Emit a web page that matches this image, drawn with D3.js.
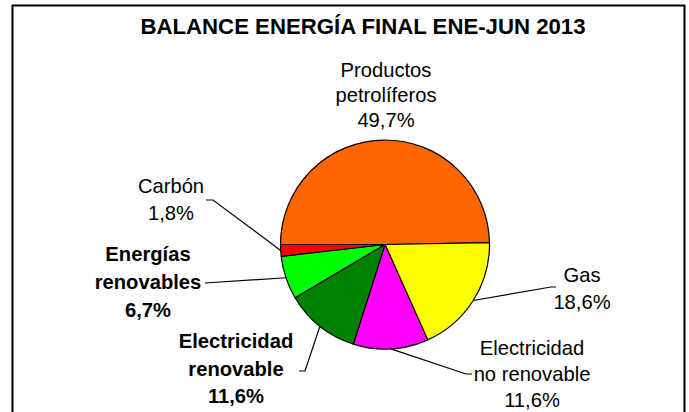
<!DOCTYPE html>
<html>
<head>
<meta charset="utf-8">
<script src="https://cdn.jsdelivr.net/npm/d3@7"></script>
<style>
  html, body { margin: 0; padding: 0; background: #fff; }
  svg { display: block; font-family: "Liberation Sans", Arial, sans-serif; }
</style>
</head>
<body>
<svg id="chart" width="689" height="412"></svg>
<script>
// Final energy balance, January–June 2013 (share of total, %)
const title = "BALANCE ENERGÍA FINAL ENE-JUN 2013";
const categories = [
  "Productos petrolíferos",
  "Gas",
  "Electricidad no renovable",
  "Electricidad renovable",
  "Energías renovables",
  "Carbón"
];
const shares = [49.7, 18.6, 11.6, 11.6, 6.7, 1.8];
const labelLines = [
  ["Productos", "petrolíferos"],
  ["Gas"],
  ["Electricidad", "no renovable"],
  ["Electricidad", "renovable"],
  ["Energías", "renovables"],
  ["Carbón"]
];
const sliceColors = ["#FF6600", "#FFFF00", "#FF00FF", "#008000", "#00FF00", "#FF0000"];
const boldLabels = [false, false, false, true, true, false];

// Label placement: centre x, first baseline y, line spacing, leader-line bend points
const labelLayout = [
  { x: 386, y: 77,  dy: 24.8, leader: [] },
  { x: 582, y: 282, dy: 26.5, leader: [[551, 287], [556, 287]] },
  { x: 532, y: 355, dy: 26.2, leader: [[466, 374], [472, 374]] },
  { x: 236, y: 348, dy: 27.5, leader: [[305, 371], [299, 371]] },
  { x: 148, y: 261, dy: 27.8, leader: [[205, 283]] },
  { x: 171, y: 193, dy: 26.7, leader: [[213, 200], [206, 200]] }
];

const fmt = v => d3.format(".1f")(v).replace(".", ",") + "%";

const svg = d3.select("#chart");
const cx = 385, cy = 244.5, radius = 104.5;

// Outer frame (open at the bottom edge)
svg.append("path")
  .attr("d", "M12.5,420 L12.5,5.5 L684.5,5.5 L684.5,420")
  .attr("fill", "none")
  .attr("stroke", "#000")
  .attr("stroke-width", 2);

svg.append("text")
  .attr("x", 363)
  .attr("y", 34)
  .attr("text-anchor", "middle")
  .attr("font-weight", "bold")
  .attr("font-size", 22.2)
  .attr("fill", "#000")
  .text(title);

const pie = d3.pie()
  .value(d => d)
  .sort(null)
  .startAngle(-Math.PI / 2)
  .endAngle(3 * Math.PI / 2);

const arcs = pie(shares);
const arc = d3.arc().innerRadius(0).outerRadius(radius);

const g = svg.append("g").attr("transform", `translate(${cx},${cy})`);
g.selectAll("path.slice")
  .data(arcs)
  .join("path")
  .attr("class", "slice")
  .attr("d", arc)
  .attr("fill", (d, i) => sliceColors[i])
  .attr("stroke", "#000")
  .attr("stroke-width", 1.2)
  .attr("stroke-linejoin", "round");

// Leader lines from each slice's mid-angle on the rim
arcs.forEach((d, i) => {
  const pts = labelLayout[i].leader;
  if (!pts.length) return;
  const mid = (d.startAngle + d.endAngle) / 2;
  const start = [cx + radius * Math.sin(mid), cy - radius * Math.cos(mid)];
  svg.append("path")
    .attr("d", d3.line()([start, ...pts]))
    .attr("fill", "none")
    .attr("stroke", "#000")
    .attr("stroke-width", 1.2);
});

// Category labels with percentage
arcs.forEach((d, i) => {
  const lay = labelLayout[i];
  const lines = [...labelLines[i], fmt(shares[i])];
  const t = svg.append("text")
    .attr("text-anchor", "middle")
    .attr("font-size", 20.2)
    .attr("font-weight", boldLabels[i] ? "bold" : "normal")
    .attr("fill", "#000");
  lines.forEach((ln, k) => {
    t.append("tspan")
      .attr("x", lay.x)
      .attr("y", lay.y + k * lay.dy)
      .text(ln);
  });
});
</script>
</body>
</html>
